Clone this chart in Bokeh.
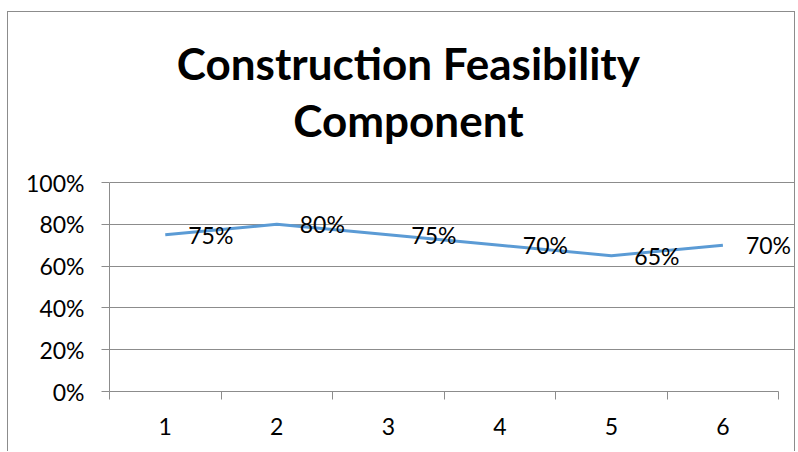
from bokeh.plotting import figure
from bokeh.models import (ColumnDataSource, Range1d, FixedTicker, NumeralTickFormatter,
                          LabelSet, Label)
from bokeh.core.properties import value
from bokeh.embed import file_html
from bokeh.resources import INLINE

categories = [1, 2, 3, 4, 5, 6]
values = [0.75, 0.80, 0.75, 0.70, 0.65, 0.70]
value_labels = ["75%", "80%", "75%", "70%", "65%", "70%"]
y_ticks = [0, 0.2, 0.4, 0.6, 0.8, 1.0]
title_lines = ["Construction Feasibility", "Component"]

FONT = "Lato"
GRID = "#8c8c8c"

src = ColumnDataSource(dict(x=categories, y=values, lab=value_labels))

# frame is extended right and up (so labels/title are not clipped);
# axis and grid bounds keep the visible chart area at 0.5..6.5 x 0..1
p = figure(width=788, height=440, output_backend="svg", toolbar_location=None,
           x_range=Range1d(0.5, 6.66), y_range=Range1d(0, 1.8134),
           min_border_left=101, min_border_right=0, min_border_top=0,
           min_border_bottom=61)
p.styles = {"border": "1px solid #8c8c8c", "border-bottom": "none",
            "margin-top": "11px", "margin-left": "7px"}
p.outline_line_color = None
p.background_fill_color = "white"
p.border_fill_color = "white"

p.line("x", "y", source=src, line_color="#5B9BD5", line_width=3)

p.add_layout(LabelSet(x="x", y="y", text="lab", source=src, x_offset=23,
                      text_baseline="middle", text_align="left",
                      text_font=value(FONT), text_font_size="23px", text_color="black"))

# axes
p.xaxis.bounds = (0.5, 6.5)
p.xaxis.ticker = FixedTicker(ticks=categories,
                             minor_ticks=[c - 0.5 for c in categories] + [categories[-1] + 0.5])
p.xaxis.major_tick_out = 0
p.xaxis.major_tick_in = 0
p.xaxis.minor_tick_out = 8
p.xaxis.minor_tick_in = 0
p.xaxis.minor_tick_line_color = GRID
p.xaxis.axis_line_color = GRID
p.xaxis.major_label_standoff = 18
p.xaxis.major_label_text_font = FONT
p.xaxis.major_label_text_font_size = "23px"
p.xaxis.major_label_text_color = "black"

p.yaxis.bounds = (0, 1)
p.yaxis.ticker = FixedTicker(ticks=y_ticks)
p.yaxis.formatter = NumeralTickFormatter(format="0%")
p.yaxis.major_tick_out = 8
p.yaxis.major_tick_in = 0
p.yaxis.minor_tick_line_color = None
p.yaxis.major_tick_line_color = GRID
p.yaxis.axis_line_color = GRID
p.yaxis.major_label_standoff = 17
p.yaxis.major_label_text_font = FONT
p.yaxis.major_label_text_font_size = "23px"
p.yaxis.major_label_text_color = "black"

p.xgrid.grid_line_color = None
p.ygrid.ticker = FixedTicker(ticks=y_ticks)
p.ygrid.bounds = (0.5, 6.5)
p.ygrid.grid_line_color = GRID
p.ygrid.grid_line_width = 1

for txt, yb in zip(title_lines, [1.57, 1.297]):
    p.add_layout(Label(x=3.18, y=yb, text=txt,
                       text_align="center", text_baseline="alphabetic",
                       text_font=FONT, text_font_style="bold",
                       text_font_size="44px", text_color="black"))

open("out.html", "w").write(file_html(p, INLINE))
